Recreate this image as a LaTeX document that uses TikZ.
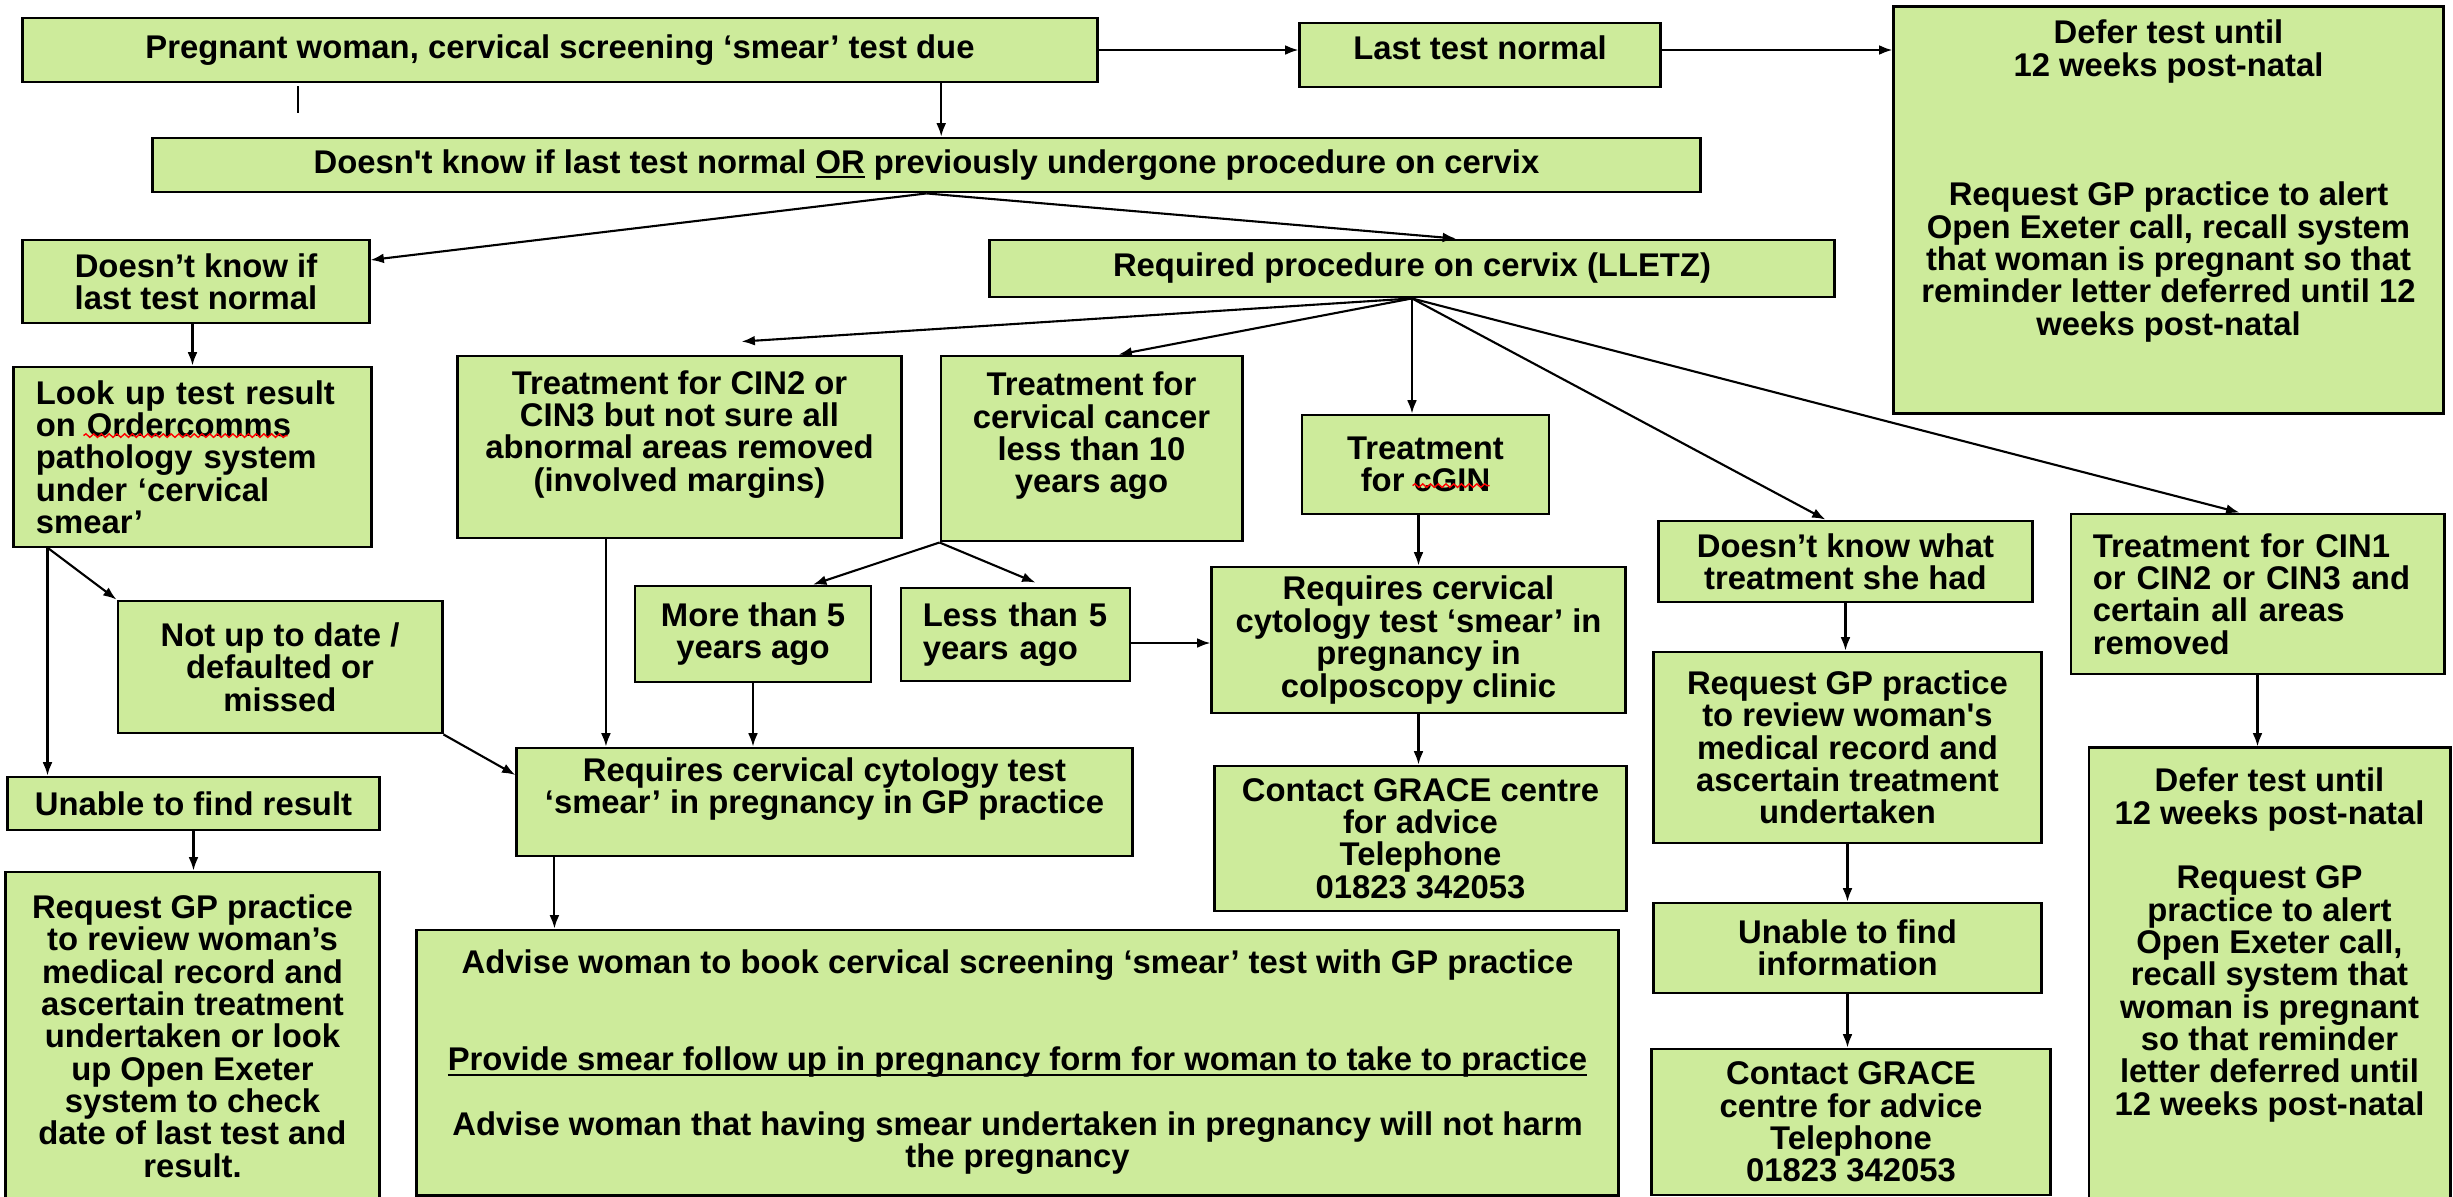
\documentclass[tikz,border=0pt]{standalone}
\usepackage{fontspec}
\setmainfont{Liberation Sans}
\usetikzlibrary{arrows.meta, decorations.pathmorphing}

\definecolor{boxgreen}{RGB}{205,235,155}
% underline set close to the baseline
\newsavebox{\ulbox}
\newcommand{\undertext}[1]{\sbox{\ulbox}{#1}\rlap{\rule[-1.4pt]{\wd\ulbox}{0.6pt}}\usebox{\ulbox}}

\tikzset{
  flowbox/.style={draw, line width=0.8pt, fill=boxgreen, inner xsep=0.22cm, inner ysep=2pt,
    align=center, font=\bfseries\fontsize{9.33}{9.2}\selectfont},
  arr/.style={-{Latex[length=3.8pt,width=2.8pt]}, line width=0.6pt},
  spellwave/.style={red, line width=0.4pt, decorate, decoration={snake, amplitude=0.5pt, segment length=2.2pt}}
}

\begin{document}
\begin{tikzpicture}[x=0.01cm, y=-0.01cm]
    \useasboundingbox (0,0) rectangle (2453,1196);

    % top row
    \node[flowbox, minimum width=10.74cm, minimum height=0.64cm] (start) at (560,50)
      {Pregnant woman, cervical screening ‘smear’ test due};
    \node[flowbox, minimum width=3.60cm, minimum height=0.64cm] (lastnorm) at (1480,55)
      {\raisebox{0.07cm}[\height][\depth]{Last test normal}};
    \node[flowbox, minimum width=5.49cm, minimum height=4.06cm] (deferA) at (2168.5,210)
      {Defer test until\\12 weeks post-natal\\~\\~\\~\\Request GP practice to alert\\Open Exeter call, recall system\\that woman is pregnant so that\\reminder letter deferred until 12\\weeks post-natal\\~\\~};
    \node[flowbox, minimum width=15.47cm, minimum height=0.54cm] (doesnt) at (926.5,165)
      {Doesn\textquotesingle t know if last test normal \undertext{OR} previously undergone procedure on cervix};
    \node[flowbox, minimum width=8.44cm, minimum height=0.57cm] (lletz) at (1412,268.5)
      {Required procedure on cervix (LLETZ)};

    % left column
    \node[flowbox, minimum width=3.46cm, minimum height=0.83cm] (dkl) at (196,281.5)
      {Doesn’t know if\\last test normal};
    \node[flowbox, align=left, text width=3.13cm, minimum height=1.80cm] (lookup) at (192.5,457)
      {Look up test result\\on Ordercomms\\pathology system\\under ‘cervical\\smear’};
    \node[flowbox, minimum width=3.24cm, minimum height=1.32cm] (notup) at (280,667)
      {Not up to date /\\defaulted or\\missed};
    \node[flowbox, minimum width=3.71cm, minimum height=0.53cm] (unable) at (193.5,803.5)
      {Unable to find result};
    \node[flowbox, minimum width=3.73cm, minimum height=3.28cm] (reql) at (192.5,1036)
      {Request GP practice\\to review woman’s\\medical record and\\ascertain treatment\\undertaken or look\\up Open Exeter\\system to check\\date of last test and\\result.};

    % treatment boxes
    \node[flowbox, minimum width=4.43cm, minimum height=1.82cm] (cin23) at (679.5,447)
      {Treatment for CIN2 or\\CIN3 but not sure all\\abnormal areas removed\\(involved margins)\\~};
    \node[flowbox, minimum width=3.01cm, minimum height=1.85cm] (cancer) at (1091.5,448.5)
      {Treatment for\\cervical cancer\\less than 10\\years ago\\~};
    \node[flowbox, minimum width=2.47cm, minimum height=0.99cm] (cgin) at (1425.5,464.5)
      {Treatment\\for cGIN};
    \node[flowbox, minimum width=3.73cm, minimum height=0.81cm] (dkw) at (1845.5,561.5)
      {Doesn’t know what\\treatment she had};
    \node[flowbox, align=left, text width=3.29cm, minimum height=1.60cm] (cin1) at (2257.5,594)
      {Treatment for CIN1\\or CIN2 or CIN3 and\\certain all areas\\removed};
    \node[flowbox, minimum width=2.36cm, minimum height=0.96cm] (more5) at (753,634)
      {More than 5\\years ago};
    \node[flowbox, align=left, text width=1.85cm, minimum height=0.93cm] (less5) at (1015.5,634.5)
      {Less than 5\\years ago};

    % outcomes
    \node[flowbox, minimum width=4.13cm, minimum height=1.46cm] (colpo) at (1418.5,640)
      {Requires cervical\\cytology test ‘smear’ in\\pregnancy in\\colposcopy clinic};
    \node[flowbox, minimum width=6.15cm, minimum height=1.08cm] (gpreq) at (824.5,802)
      {Requires cervical cytology test\\‘smear’ in pregnancy in GP practice\\~};
    \node[flowbox, minimum width=4.11cm, minimum height=1.45cm] (gracea) at (1420.5,838.5)
      {Contact GRACE centre\\for advice\\Telephone\\01823 342053};
    \node[flowbox, minimum width=3.87cm, minimum height=1.91cm] (reqr) at (1847.5,747.5)
      {Request GP practice\\to review woman\textquotesingle s\\medical record and\\ascertain treatment\\undertaken};
    \node[flowbox, minimum width=3.87cm, minimum height=0.90cm] (unablei) at (1847.5,948)
      {Unable to find\\information};
    \node[flowbox, minimum width=3.98cm, minimum height=1.46cm] (graceb) at (1851,1122)
      {Contact GRACE\\centre for advice\\Telephone\\01823 342053};
    \node[flowbox, minimum width=12.01cm, minimum height=2.65cm] (advise) at (1017.5,1062.5)
      {Advise woman to book cervical screening ‘smear’ test with GP practice\\~\\~\\\undertext{Provide smear follow up in pregnancy form for woman to take to practice}\\~\\Advise woman that having smear undertaken in pregnancy will not harm\\the pregnancy};
    \node[flowbox, minimum width=3.61cm, minimum height=4.52cm] (deferB) at (2269.5,974)
      {Defer test until\\12 weeks post-natal\\~\\Request GP\\practice to alert\\Open Exeter call,\\recall system that\\woman is pregnant\\so that reminder\\letter deferred until\\12 weeks post-natal\\~\\~};

    % spell-check waves
    \draw[spellwave] ([xshift=0.71cm,yshift=-0.70cm]lookup.north west) -- ([xshift=2.75cm,yshift=-0.70cm]lookup.north west);
    \draw[spellwave] ([xshift=1.12cm,yshift=-0.72cm]cgin.north west) -- ([xshift=1.89cm,yshift=-0.72cm]cgin.north west);

    % connectors
    \coordinate (tick) at (298,113);
    \draw[line width=0.6pt] ([yshift=-0.03cm]tick |- start.south) -- (tick);
    \draw[arr] (start.east) -- (start.east -| lastnorm.west);
    \draw[arr] (start.east -| lastnorm.east) -- (start.east -| deferA.west);
    \draw[arr] ([xshift=3.81cm]start.south) -- ([xshift=3.81cm]start.south |- doesnt.north);
    \draw[arr] (doesnt.south) -- ([yshift=0.215cm]dkl.east);
    \draw[arr] (doesnt.south) -- ([xshift=0.44cm]lletz.north);

    \draw[arr] (lletz.south) -- ([xshift=0.62cm,yshift=0.13cm]cin23.north);
    \draw[arr] (lletz.south) -- ([xshift=0.27cm]cancer.north);
    \draw[arr] (lletz.south) -- (lletz.south |- cgin.north);
    \draw[arr] (lletz.south) -- ([xshift=-0.2cm]dkw.north);
    \draw[arr] (lletz.south) -- ([xshift=-0.18cm]cin1.north);

    \draw[arr] (lookup.north |- dkl.south) -- (lookup.north);
    \draw[arr] ([xshift=0.35cm]lookup.south west) -- ([xshift=0.35cm]lookup.south west |- unable.north);
    \draw[arr] ([xshift=0.36cm]lookup.south west) -- (notup.north west);
    \draw[arr] (notup.south east) -- ([yshift=0.27cm]gpreq.west);
    \draw[arr] (unable.south) -- (unable.south |- reql.north);

    \draw[arr] ([xshift=-0.735cm]cin23.south) -- ([xshift=-0.735cm]cin23.south |- gpreq.north);
    \draw[arr] (more5.south) -- (more5.south |- gpreq.north);
    \draw[arr] (cancer.south west) -- ([xshift=0.6cm]more5.north);
    \draw[arr] (cancer.south west) -- ([xshift=0.2cm,yshift=0.04cm]less5.north);
    \draw[arr] ([yshift=-0.085cm]less5.east) -- ([yshift=-0.085cm]less5.east -| colpo.west);
    \draw[arr] (colpo.north |- cgin.south) -- (colpo.north);
    \draw[arr] (colpo.south) -- (colpo.south |- gracea.north);
    \draw[arr] ([xshift=0.39cm]gpreq.south west) -- ([xshift=0.39cm]gpreq.south west |- advise.north);

    \draw[arr] (dkw.south) -- (dkw.south |- reqr.north);
    \draw[arr] (reqr.south) -- (reqr.south |- unablei.north);
    \draw[arr] (unablei.south) -- (unablei.south |- graceb.north);
    \draw[arr] (cin1.south) -- (cin1.south |- deferB.north);

\end{tikzpicture}
\end{document}
